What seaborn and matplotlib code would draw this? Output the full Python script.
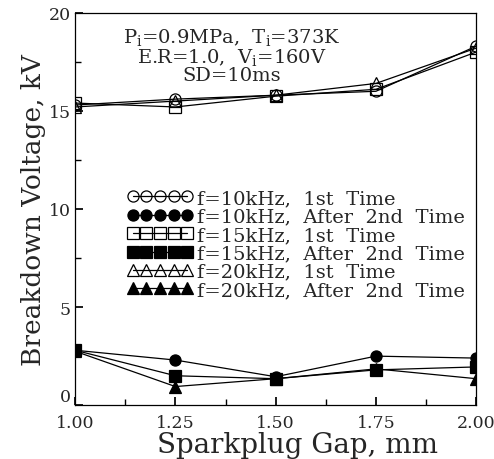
import matplotlib
matplotlib.use("Agg")
import matplotlib.pyplot as plt
import seaborn as sns
import pandas as pd
import numpy as np
from matplotlib.ticker import MultipleLocator

gap = [1.00, 1.25, 1.50, 1.75, 2.00]
v10_first = [15.3, 15.6, 15.8, 16.0, 18.3]
v10_after = [2.8, 2.3, 1.45, 2.5, 2.4]
v15_first = [15.4, 15.2, 15.75, 16.1, 18.0]
v15_after = [2.8, 1.5, 1.35, 1.8, 1.95]
v20_first = [15.2, 15.5, 15.8, 16.4, 18.2]
v20_after = [2.75, 0.95, 1.35, 1.85, 1.35]
xtick_labels = ["1.00", "1.25", "1.50", "1.75", "2.00"]
yticks = [0, 5, 10, 15, 20]
ytick_labels = ["0", "5", "10", "15", "20"]

labels = ["f=10kHz,  1st  Time", "f=10kHz,  After  2nd  Time",
          "f=15kHz,  1st  Time", "f=15kHz,  After  2nd  Time",
          "f=20kHz,  1st  Time", "f=20kHz,  After  2nd  Time"]
series = [v10_first, v10_after, v15_first, v15_after, v20_first, v20_after]

sns.set_theme(style="ticks")
plt.rcParams['font.family'] = ['DejaVu Serif']
plt.rcParams['mathtext.fontset'] = 'dejavuserif'

df = pd.concat([pd.DataFrame({"gap": gap, "V": s, "series": l})
                for l, s in zip(labels, series)], ignore_index=True)

fig = plt.figure(figsize=(4.94, 4.60), dpi=100)
ax = fig.add_axes([0.152, 0.117, 0.812, 0.853])

markers = ["o", "o", "s", "s", "^", "^"]
filled = [False, True, False, True, False, True]
for l, m, f in zip(labels, markers, filled):
    sub = df[df["series"] == l]
    sns.lineplot(data=sub, x="gap", y="V", ax=ax, color="black", lw=0.9,
                 marker=m, markersize=8, markeredgecolor="black",
                 markerfacecolor="black" if f else "none",
                 markeredgewidth=0.9, label=l, legend=False)

ax.set_xlim(1.0, 2.0)
ax.set_ylim(0, 20)
ax.set_xticks(gap)
ax.set_xticklabels(xtick_labels)
ax.set_yticks(yticks)
ax.set_yticklabels(ytick_labels)
ax.get_yticklabels()[0].set_verticalalignment("bottom")
ax.xaxis.set_minor_locator(MultipleLocator(0.125))
ax.yaxis.set_minor_locator(MultipleLocator(2.5))
ax.tick_params(which="both", direction="in", labelsize=12.5, color="black")
ax.tick_params(which="major", length=6)
ax.tick_params(which="minor", length=4)
ax.tick_params(axis="x", pad=6)
ax.tick_params(axis="y", pad=3)
for sp in ax.spines.values():
    sp.set_color("black")
    sp.set_linewidth(0.9)

ax.set_xlabel("Sparkplug Gap, mm", fontsize=20, labelpad=0)
ax.xaxis.set_label_coords(0.555, -0.065)
ax.set_ylabel("Breakdown Voltage, kV", fontsize=19, labelpad=2)

ax.text(0.39, 0.967, "P$_\\mathregular{i}$=0.9MPa,  T$_\\mathregular{i}$=373K\nE.R=1.0,  V$_\\mathregular{i}$=160V\nSD=10ms",
        transform=ax.transAxes, ha="center", va="top", fontsize=14,
        linespacing=0.95, multialignment="center")

handles = ax.get_lines()
leg = ax.legend(handles, labels, loc="upper left", bbox_to_anchor=(0.11, 0.57),
                frameon=False, numpoints=5, handlelength=3.4, handletextpad=0.2,
                labelspacing=0.02, fontsize=14, borderaxespad=0)

fig.savefig("out.png", dpi=100)
